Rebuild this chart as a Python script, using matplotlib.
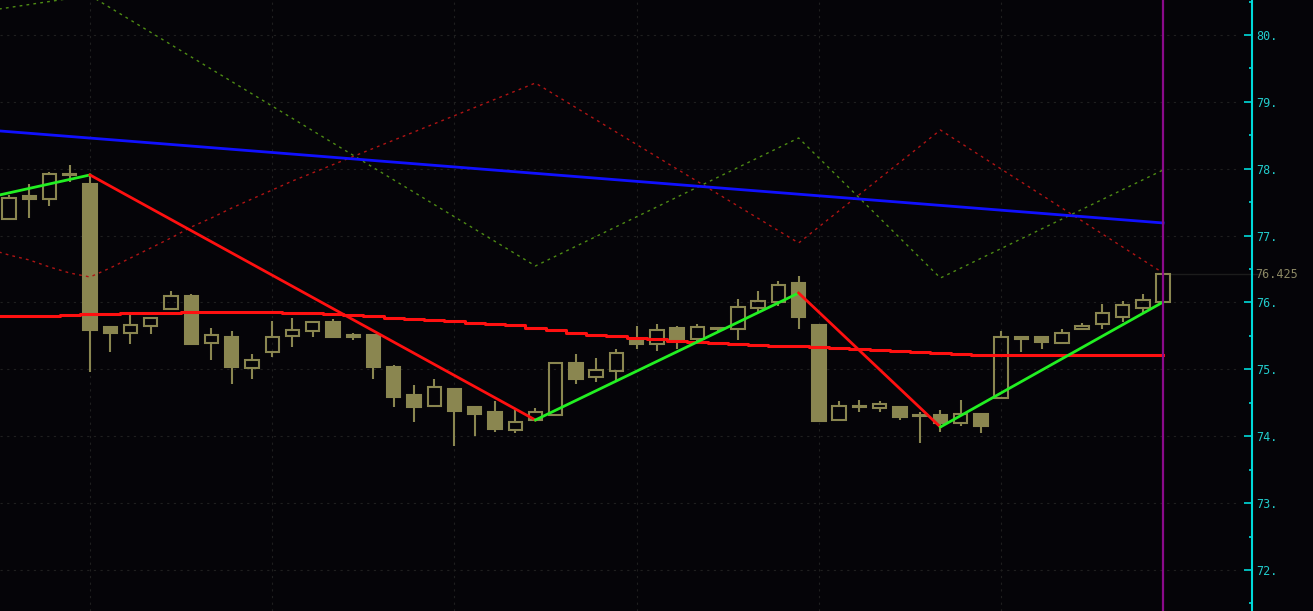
import matplotlib
matplotlib.use("Agg")
import matplotlib.pyplot as plt
import matplotlib.transforms as mtransforms
from matplotlib.ticker import MultipleLocator, FormatStrFormatter

# candles (open, high, low, close), one per bar
opens = [77.25, 77.59, 77.55, 77.90, 77.77, 75.64, 75.55, 75.65, 75.90, 76.10,
         75.40, 75.49, 75.02, 75.26, 75.50, 75.58, 75.71, 75.51, 75.52, 75.04,
         74.62, 74.45, 74.71, 74.44, 74.36, 74.10, 74.25, 74.32, 75.10, 74.89,
         74.98, 75.44, 75.38, 75.62, 75.46, 75.60, 75.61, 75.92, 76.01, 76.29,
         75.67, 74.25, 74.45, 74.42, 74.44, 74.32, 74.32, 74.20, 74.33, 74.57,
         75.49, 75.49, 75.40, 75.61, 75.68, 75.78, 75.92, 76.01]
highs = [77.60, 77.77, 77.95, 78.06, 77.91, 75.64, 75.83, 75.78, 76.17, 76.13,
         75.62, 75.58, 75.23, 75.73, 75.77, 75.73, 75.75, 75.55, 75.53, 75.06,
         74.77, 74.86, 74.71, 74.45, 74.53, 74.39, 74.42, 75.11, 75.23, 75.17,
         75.31, 75.65, 75.68, 75.65, 75.68, 75.64, 76.05, 76.17, 76.32, 76.40,
         75.67, 74.53, 74.54, 74.53, 74.45, 74.37, 74.39, 74.54, 74.34, 75.58,
         75.49, 75.49, 75.61, 75.70, 75.98, 76.02, 76.13, 76.44]
lows = [77.25, 77.26, 77.44, 77.80, 74.96, 75.26, 75.38, 75.53, 75.90, 75.37,
        75.14, 74.78, 74.86, 75.19, 75.34, 75.49, 75.49, 75.44, 74.86, 74.44,
        74.22, 74.45, 73.86, 74.01, 74.07, 74.05, 74.25, 74.30, 74.78, 74.81,
        74.81, 75.31, 75.28, 75.31, 75.41, 75.56, 75.44, 75.84, 75.95, 75.61,
        74.22, 74.24, 74.36, 74.36, 74.25, 73.90, 74.07, 74.16, 74.05, 74.57,
        75.26, 75.31, 75.40, 75.61, 75.61, 75.71, 75.84, 76.01]
closes = [77.56, 77.55, 77.92, 77.92, 75.59, 75.55, 75.67, 75.77, 76.10, 75.38,
          75.52, 75.04, 75.14, 75.49, 75.59, 75.71, 75.49, 75.49, 75.04, 74.59,
          74.44, 74.74, 74.38, 74.33, 74.11, 74.22, 74.36, 75.10, 74.86, 74.99,
          75.25, 75.38, 75.59, 75.46, 75.64, 75.62, 75.93, 76.02, 76.26, 75.78,
          74.23, 74.45, 74.44, 74.48, 74.29, 74.31, 74.20, 74.33, 74.16, 75.49,
          75.46, 75.41, 75.55, 75.65, 75.84, 75.96, 76.04, 76.425]

# slow moving average (red) and long one (blue)
ma_red = [75.798, 75.798, 75.798, 75.798, 75.813, 75.821, 75.828, 75.836, 75.843, 75.850,
          75.853, 75.855, 75.858, 75.858, 75.858, 75.850, 75.843, 75.831, 75.813, 75.791,
          75.768, 75.753, 75.731, 75.716, 75.697, 75.679, 75.656, 75.626, 75.589, 75.544,
          75.514, 75.499, 75.469, 75.447, 75.424, 75.402, 75.390, 75.375, 75.364, 75.354,
          75.342, 75.327, 75.315, 75.308, 75.297, 75.282, 75.264, 75.245, 75.230, 75.215,
          75.215, 75.215, 75.215, 75.215, 75.215, 75.215, 75.215, 75.215, 75.215]
ma_red_x = list(range(-1, 58))
ma_blue_x = [-1, 9, 18, 27, 36, 45, 57]
ma_blue = [78.578, 78.339, 78.123, 77.907, 77.691, 77.476, 77.189]

# zigzag pivots
zz_x = [-1, 4, 26, 39, 46, 57]
zz_y = [77.572, 77.907, 74.243, 76.142, 74.138, 76.007]

# dotted channel lines
grn_dot_x = [-1, 4, 26, 39, 46, 57]
grn_dot_y = [80.365, 80.591, 76.546, 78.460, 76.366, 77.981]
red_dot_x = [-1, 0, 1, 2, 3, 4, 5, 6, 7, 8, 9, 10, 11, 12, 13, 14, 26, 39, 46, 57]
red_dot_y = [76.800, 76.710, 76.636, 76.531, 76.441, 76.381, 76.516, 76.665, 76.815, 76.965,
             77.129, 77.264, 77.413, 77.548, 77.682, 77.817, 79.282, 76.890, 78.579, 76.441]

last_price = 76.425

bg = '#050408'
candle_col = '#8a8650'

fig = plt.figure(figsize=(13.13, 6.11), dpi=100, facecolor=bg)
ax = fig.add_axes([0, 0, 1252 / 1313, 1])
ax.set_facecolor(bg)

# grid
for v in range(72, 81):
    ax.axhline(v, xmax=0.99, color='#1f1f1f', lw=0.8, ls=(0, (2, 4)), zorder=0)
for v in [4, 13, 22, 31, 40, 49]:
    ax.axvline(v, color='#1f1f1f', lw=0.8, ls=(0, (2, 4)), zorder=0)

# candles
w = 0.66
for i in range(len(opens)):
    o, h, l, c = opens[i], highs[i], lows[i], closes[i]
    top = max(o, c)
    bot = min(o, c)
    hgt = max(top - bot, 0.015)
    if c >= o:
        ax.vlines(i, top, h, color=candle_col, lw=1.5, zorder=2)
        ax.vlines(i, l, bot, color=candle_col, lw=1.5, zorder=2)
        ax.bar(i, hgt, w, bottom=bot, facecolor='none', edgecolor=candle_col, lw=1.5, zorder=3)
    else:
        ax.vlines(i, l, h, color=candle_col, lw=1.5, zorder=2)
        ax.bar(i, hgt, w, bottom=bot, facecolor=candle_col, edgecolor=candle_col, lw=1.5, zorder=3)

# dotted channels
ax.plot(grn_dot_x, grn_dot_y, color='#4e8c14', lw=1, ls=(0, (2, 3)), zorder=4)
ax.plot(red_dot_x, red_dot_y, color='#b01414', lw=1, ls=(0, (2, 3)), zorder=4)

# moving averages
ax.plot(ma_blue_x, ma_blue, color='#1010ff', lw=2, zorder=5)
ax.plot(ma_red_x, ma_red, color='#ff1010', lw=2.2, drawstyle='steps-mid', zorder=5)

# zigzag
for k in range(len(zz_x) - 1):
    col = '#22f022' if zz_y[k + 1] > zz_y[k] else '#ff1010'
    ax.plot(zz_x[k:k + 2], zz_y[k:k + 2], color=col, lw=2, zorder=6)

# last price line and cursor
ax.plot([57.35, 62], [last_price, last_price], color='#1c1c1c', lw=1, zorder=1, clip_on=False)
ax.axvline(57, color='#8a0a8a', lw=1.6, zorder=7)

ax.set_xlim(-0.4445, 61.39)
ax.set_ylim(71.387, 80.523)

for s in ['top', 'left', 'bottom']:
    ax.spines[s].set_visible(False)
ax.spines['right'].set_color('#00dada')
ax.spines['right'].set_linewidth(1.5)
ax.set_xticks([])
ax.yaxis.tick_right()
ax.yaxis.set_major_locator(MultipleLocator(1))
ax.yaxis.set_minor_locator(MultipleLocator(0.5))
ax.yaxis.set_major_formatter(FormatStrFormatter('%d.'))
ax.tick_params(axis='y', which='major', direction='in', length=6, width=1.2,
               color='#00dada', labelcolor='#22cccc', labelsize=8.5, pad=3)
ax.tick_params(axis='y', which='minor', direction='in', length=2.2, width=1.2, color='#00dada')
for lbl in ax.get_yticklabels():
    lbl.set_family('DejaVu Sans Mono')

trans = mtransforms.blended_transform_factory(ax.transAxes, ax.transData)
ax.text(1.0 + 3 / 1252, last_price, '76.425', transform=trans, color='#8c8864',
        fontsize=8.5, family='DejaVu Sans Mono', va='center', ha='left')

fig.savefig('out.png', dpi=100, facecolor=bg)
